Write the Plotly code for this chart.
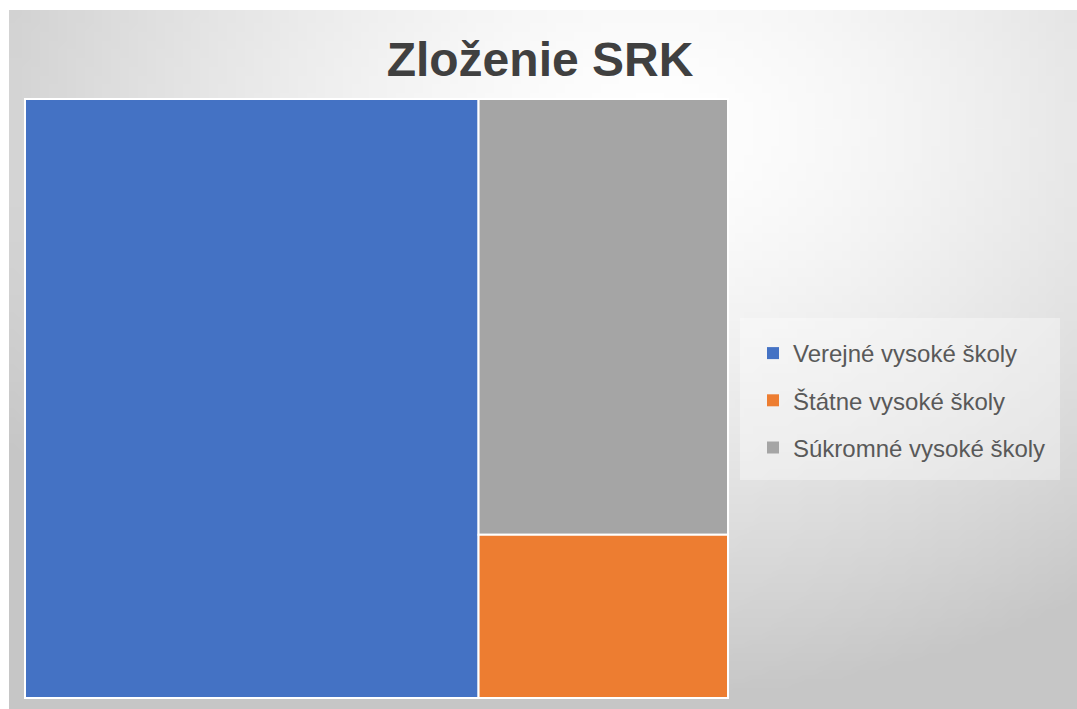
import base64, struct, zlib
import numpy as np
import plotly.graph_objects as go

# ---- data ----
categories = ["Verejné vysoké školy", "Štátne vysoké školy", "Súkromné vysoké školy"]
values = [20, 3, 8]
colors = ["#4472C4", "#ED7D31", "#A5A5A5"]
title_text = "Zloženie SRK"

W, H = 1077, 709

# ---- background gradient (slide look) as a small PNG ----
def gradient_png(w=120, h=80):
    xs = (np.arange(w) + 0.5) / w * 1068 + 9
    ys = (np.arange(h) + 0.5) / h * 699 + 10
    X, Y = np.meshgrid(xs, ys)
    d = np.sqrt(((X - 650) / 760.0) ** 2 + ((Y - 130) / 560.0) ** 2)
    v = np.clip(255 - 55 * d ** 1.5, 198, 255).astype(np.uint8)
    arr = np.stack([v, v, v], axis=-1)
    raw = b"".join(b"\x00" + row.tobytes() for row in arr)

    def chunk(t, data):
        c = struct.pack(">I", len(data)) + t + data
        return c + struct.pack(">I", zlib.crc32(t + data) & 0xFFFFFFFF)

    png = (b"\x89PNG\r\n\x1a\n"
           + chunk(b"IHDR", struct.pack(">IIBBBBB", w, h, 8, 2, 0, 0, 0))
           + chunk(b"IDAT", zlib.compress(raw, 9))
           + chunk(b"IEND", b""))
    return "data:image/png;base64," + base64.b64encode(png).decode()

fig = go.Figure()

fig.add_trace(go.Treemap(
    labels=categories,
    parents=[""] * len(categories),
    values=values,
    marker=dict(colors=colors, line=dict(color="white", width=2), pad=dict(t=0, l=0, r=0, b=0)),
    tiling=dict(packing="squarify", pad=0),
    pathbar=dict(visible=False),
    textinfo="none",
    hoverinfo="label+value",
    sort=True,
    domain=dict(x=[25 / W, 728 / W], y=[1 - 698 / H, 1 - 99 / H]),
))

# legend entries
for i, (c, col) in enumerate(zip(categories, colors)):
    fig.add_trace(go.Scatter(
        x=[None], y=[None], mode="markers", name=c, legendgroup=f"g{i}",
        marker=dict(symbol="square", size=12, color=col),
    ))

fig.update_layout(
    width=W, height=H,
    margin=dict(l=0, r=0, t=0, b=0),
    paper_bgcolor="white",
    plot_bgcolor="rgba(0,0,0,0)",
    xaxis=dict(visible=False, domain=[0.72, 0.73]),
    yaxis=dict(visible=False, domain=[0.5, 0.51]),
    title=dict(text=f"<b>{title_text}</b>", x=540 / W, xanchor="center",
               y=1 - 59 / H, yanchor="middle", yref="paper",
               font=dict(family="Liberation Sans, Arial, sans-serif", size=48, color="#404040")),
    showlegend=True,
    legend=dict(x=753 / W, xanchor="left", y=1 - 331 / H, yanchor="top",
                bgcolor="rgba(0,0,0,0)", traceorder="grouped", tracegroupgap=13,
                font=dict(family="Liberation Sans, Arial, sans-serif", size=24, color="#595959")),
    images=[dict(source=gradient_png(), xref="paper", yref="paper",
                 x=9 / W, y=1 - 10 / H, sizex=1068 / W, sizey=699 / H,
                 xanchor="left", yanchor="top", sizing="stretch", layer="below")],
    shapes=[dict(type="rect", xref="paper", yref="paper",
                 x0=740 / W, x1=1060 / W, y0=1 - 480 / H, y1=1 - 318 / H,
                 fillcolor="rgba(255,255,255,0.35)", line=dict(width=0), layer="below")],
)

fig.write_html("out.html", config={"displayModeBar": False},
               post_script="document.body.style.margin='0';")
